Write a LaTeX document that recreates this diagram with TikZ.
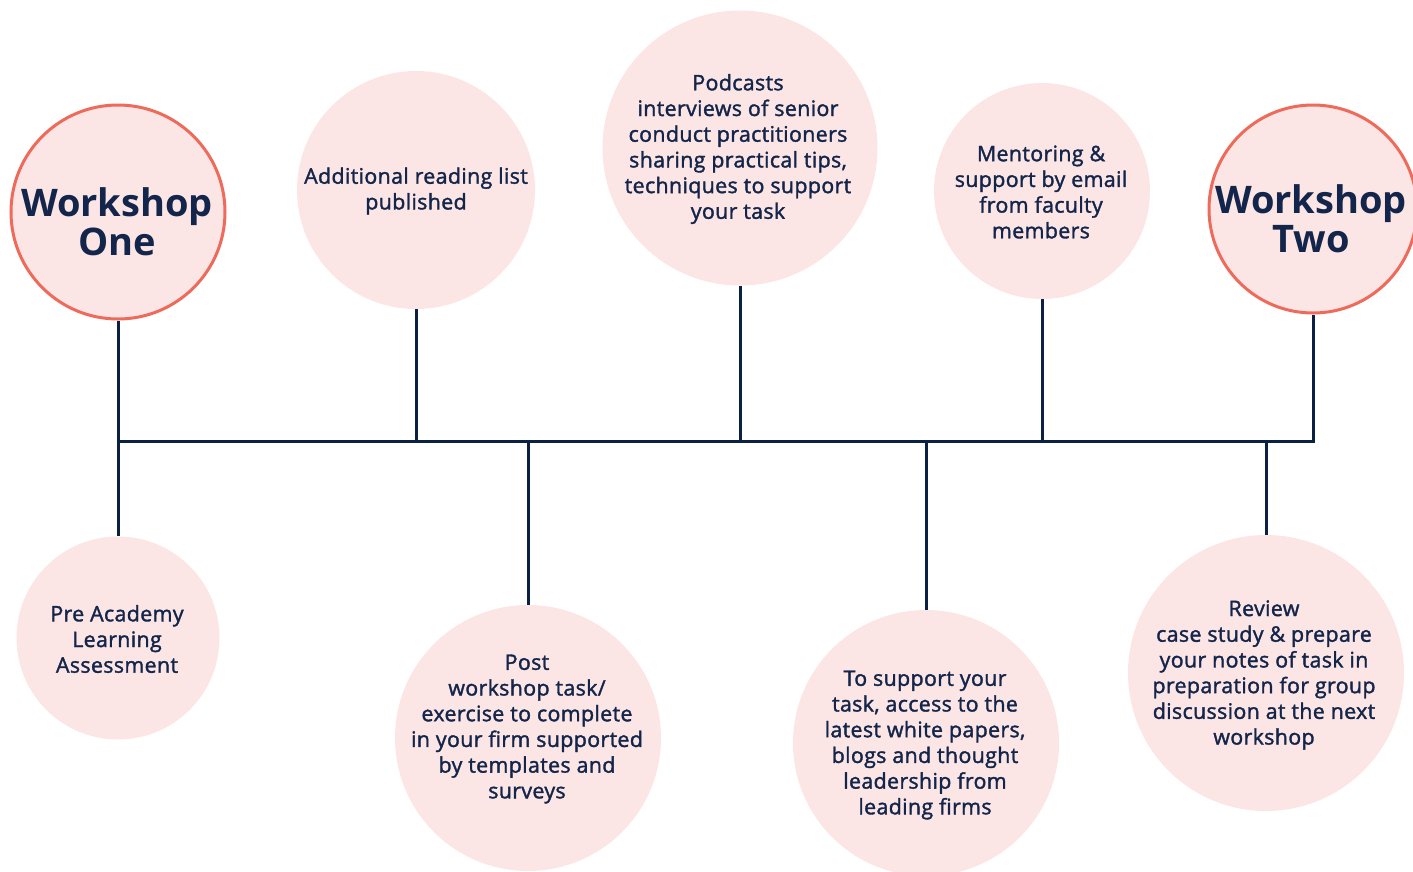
\documentclass[tikz,border=0pt]{standalone}
\usepackage{fontspec}
\setmainfont{Open Sans}
\newfontfamily\semifont[FakeBold=1.6,LetterSpace=1.6]{Open Sans}
\definecolor{navy}{HTML}{0B2144}
\definecolor{txt}{HTML}{13254A}
\definecolor{pinkfill}{HTML}{FCE6E5}
\definecolor{coral}{HTML}{EE6B5B}
\begin{document}
\begin{tikzpicture}[x=1pt,y=-1pt,
  bubble/.style={circle,fill=pinkfill,draw=none,inner sep=0pt},
  wsbubble/.style={circle,fill=pinkfill,draw=coral,line width=3pt,inner sep=0pt},
  small/.style={align=center,text=txt,font=\semifont\fontsize{21.4}{25.7}\selectfont,inner sep=0pt},
  big/.style={align=center,text=txt,font=\fontsize{38}{39}\selectfont\bfseries,inner sep=0pt},
  conn/.style={draw=navy,line width=3pt,line join=miter}]
\path[use as bounding box] (0,0) rectangle (1413,871);
\begin{scope}
\clip (0,0) rectangle (1413,871);
% circles
\node[wsbubble,minimum size=214pt] (wone) at (118,212) {};
\node[bubble,minimum size=238pt] (read) at (416,190) {};
\node[bubble,minimum size=275pt] (pod) at (740,148) {};
\node[bubble,minimum size=216pt] (ment) at (1042,191) {};
\node[wsbubble,minimum size=208pt] (wtwo) at (1313,209) {};
\node[bubble,minimum size=203pt] (pre) at (118,638) {};
\node[bubble,minimum size=266pt] (post) at (528,738) {};
\node[bubble,minimum size=266pt] (supp) at (926,743) {};
\node[bubble,minimum size=276pt] (rev) at (1266,673) {};
% connectors
\coordinate (jL) at (118,441);
\coordinate (jR) at (1313,441);
\draw[conn] (jL) -- (jR) -- (wtwo.south);
\draw[conn] (wone.south) -- (pre.north);
\draw[conn] (read.south) -- (read.south |- jL);
\draw[conn] (pod.south) -- (pod.south |- jL);
\draw[conn] (ment.south) -- (ment.south |- jL);
\draw[conn] (post.north) -- (post.north |- jL);
\draw[conn] (supp.north) -- (supp.north |- jL);
\draw[conn] (rev.north) -- (rev.north |- jL);
% texts
\node[big] (wone-t) at (117,222) {Workshop\\One};
\node[big] (wtwo-t) at (1311,219) {Workshop\\Two};
\node[small] (read-t) at (416,191) {Additional reading list\\published};
\node[small] (pod-t) at (738,149) {Podcasts\\interviews of senior\\conduct practitioners\\sharing practical tips,\\techniques to support\\your task};
\node[small] (ment-t) at (1041,192) {Mentoring \&\\support by email\\from faculty\\members};
\node[small] (pre-t) at (117,639) {Pre Academy\\Learning\\Assessment};
\node[small] (post-t) at (527,729) {Post\\workshop task/\\exercise to complete\\in your firm supported\\by templates and\\surveys};
\node[small] (supp-t) at (925,745) {To support your\\task, access to the\\latest white papers,\\blogs and thought\\leadership from\\leading firms};
\node[small] (rev-t) at (1264,675) {Review\\case study \& prepare\\your notes of task in\\preparation for group\\discussion at the next\\workshop};
\end{scope}
\end{tikzpicture}
\end{document}
